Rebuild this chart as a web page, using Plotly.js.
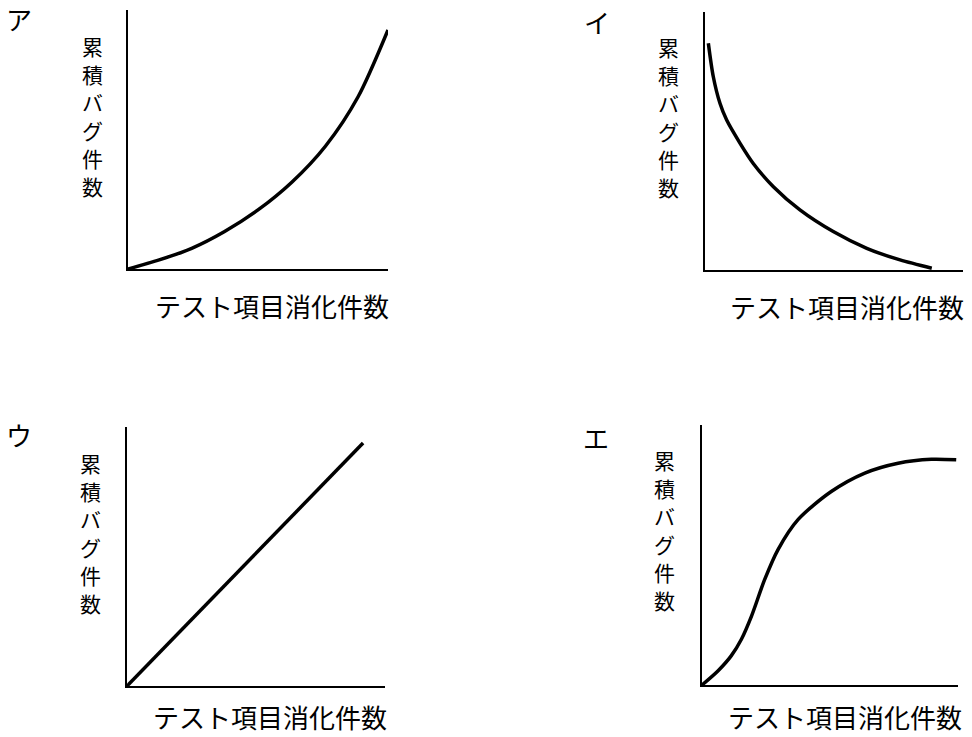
<!DOCTYPE html>
<html>
<head>
<meta charset="utf-8">
<script src="https://cdn.plot.ly/plotly-3.0.1.min.js"></script>
<style>
  body { margin: 0; background: #fff; }
  #plot { width: 972px; height: 737px; }
</style>
</head>
<body>
<div id="plot"></div>
<script>
// Panel letters and axis labels
let panelNames = ["ア", "イ", "ウ", "エ"];
let yLabel = "累積バグ件数";
let xLabel = "テスト項目消化件数";

// Curve values (x = test items done, y = cumulative bugs), 0-100 scale
let xA = [0, 12, 24.5, 37, 50, 63, 76, 88.5, 100];
let yA = [0, 3.5, 8, 14.4, 22.8, 33.5, 47.5, 66.5, 92.3];

let xI = [1.3, 3.2, 5.8, 8.4, 13.6, 18.7, 26.5, 36.8, 49.7, 62.7, 75.6, 87.9];
let yI = [87.9, 75, 64.6, 58.1, 49.1, 41.3, 32.3, 23.3, 14.9, 8.4, 3.9, 0.7];

let xU = [0, 91.5];
let yU = [0, 93.8];

let xE = [0, 6.3, 11.4, 15.4, 19.3, 24.5, 29.7, 37.5, 50.5, 63.6, 76.6, 89.6, 99.3];
let yE = [0, 5.5, 11.2, 17.6, 26.4, 40.6, 52.1, 63.6, 74.4, 81.5, 85.3, 86.8, 86.6];

const W = 972, H = 737;
const FONT = "Noto Sans CJK JP, sans-serif";

// pixel boxes of each panel's axes: [left, right, bottom, top]
let boxes = [
    [128, 388, 269, 10],
    [705, 963, 270, 12],
    [127, 385, 686, 427],
    [702, 958, 685, 425]
];

let series = [[xA, yA], [xI, yI], [xU, yU], [xE, yE]];

let traces = [];
let layout = {
    width: W,
    height: H,
    margin: {l: 0, r: 0, t: 0, b: 0},
    paper_bgcolor: "#fff",
    plot_bgcolor: "#fff",
    showlegend: false,
    font: {family: FONT, color: "#000"},
    annotations: []
};

for (let i = 0; i < 4; i++) {
    let n = i === 0 ? "" : String(i + 1);
    let b = boxes[i];
    traces.push({
        x: series[i][0],
        y: series[i][1],
        xaxis: "x" + n,
        yaxis: "y" + n,
        type: "scatter",
        mode: "lines",
        line: {color: "#000", width: 3.5, shape: "spline", smoothing: 0.8},
        hoverinfo: "skip"
    });
    let ax = {
        range: [0, 100],
        showline: true,
        linecolor: "#000",
        linewidth: 2,
        showgrid: false,
        zeroline: false,
        showticklabels: false,
        ticks: "",
        fixedrange: true
    };
    layout["xaxis" + n] = Object.assign({}, ax, {
        domain: [b[0] / W, b[1] / W],
        anchor: "y" + n
    });
    layout["yaxis" + n] = Object.assign({}, ax, {
        domain: [1 - b[2] / H, 1 - b[3] / H],
        anchor: "x" + n
    });
}

// label positions in pixels
let letterPos = [[19, 19], [597, 22], [19, 434], [596, 437]];
let yLabelPos = [[92, 46], [668, 47], [90, 463], [664, 460]];  // first character
let xLabelPos = [[272, 305], [847, 306], [270, 716], [845, 716]];
let charStep = 28;

function addText(text, px, py, size) {
    layout.annotations.push({
        text: text,
        xref: "paper",
        yref: "paper",
        x: px / W,
        y: 1 - py / H,
        xanchor: "center",
        yanchor: "middle",
        showarrow: false,
        borderpad: 0,
        font: {family: FONT, size: size, color: "#000"}
    });
}

for (let i = 0; i < 4; i++) {
    addText(panelNames[i], letterPos[i][0], letterPos[i][1], 26);
    // vertical label: one character under the other
    let chars = Array.from(yLabel);
    for (let k = 0; k < chars.length; k++) {
        addText(chars[k], yLabelPos[i][0], yLabelPos[i][1] + k * charStep, 21);
    }
    addText(xLabel, xLabelPos[i][0], xLabelPos[i][1], 26);
}

Plotly.newPlot("plot", traces, layout, {staticPlot: true});
</script>
</body>
</html>
